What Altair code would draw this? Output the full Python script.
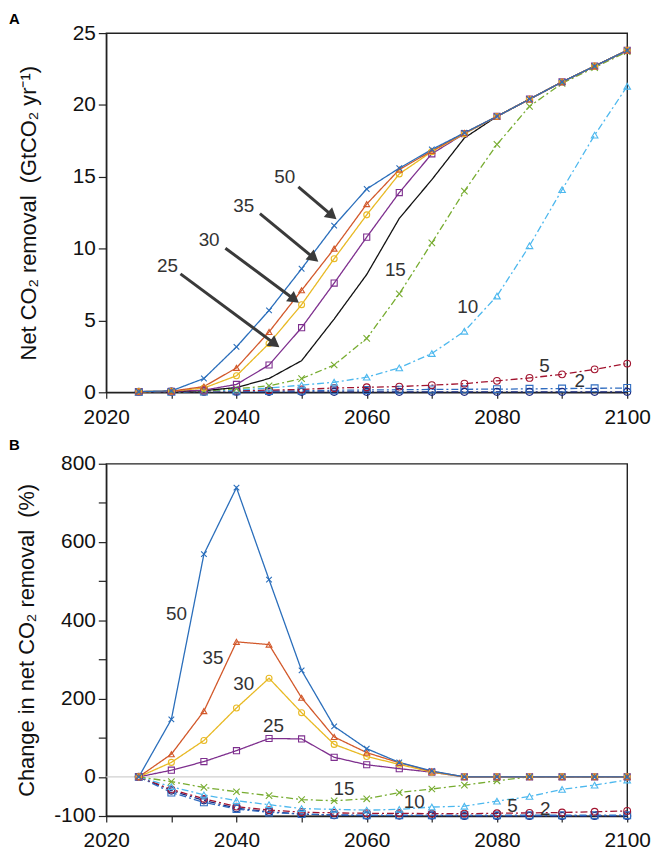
import math
import altair as alt
import pandas as pd

# ---------------- data ----------------
years = [2025, 2030, 2035, 2040, 2045, 2050, 2055, 2060, 2065, 2070, 2075, 2080, 2085, 2090, 2095, 2100]

# Panel A: net CO2 removal (GtCO2/yr)
top_50 = [0.05, 0.10, 0.96, 3.16, 5.70, 8.60, 11.6, 14.15, 15.6, 16.9, 18.06, 19.2, 20.4, 21.6, 22.7, 23.8]
top_35 = [0.05, 0.08, 0.40, 1.70, 4.20, 7.10, 10.0, 13.1, 15.5, 16.8, 18.05, 19.2, 20.4, 21.6, 22.7, 23.8]
top_30 = [0.05, 0.07, 0.30, 1.15, 3.40, 6.10, 9.30, 12.35, 15.2, 16.75, 18.0, 19.2, 20.4, 21.6, 22.7, 23.8]
top_25 = [0.04, 0.06, 0.15, 0.55, 1.90, 4.50, 7.60, 10.8, 13.9, 16.6, 18.0, 19.2, 20.4, 21.6, 22.7, 23.8]
top_base = [0.02, 0.04, 0.12, 0.33, 0.96, 2.20, 5.10, 8.20, 12.1, 14.8, 17.7, 19.2, 20.4, 21.6, 22.7, 23.8]
top_15 = [0.02, 0.04, 0.10, 0.25, 0.45, 0.95, 1.90, 3.75, 6.85, 10.4, 14.0, 17.25, 19.9, 21.5, 22.6, 23.7]
top_10 = [0.02, 0.04, 0.08, 0.15, 0.30, 0.50, 0.70, 1.05, 1.70, 2.70, 4.25, 6.70, 10.2, 14.1, 17.9, 21.3]
top_5 = [0.03, 0.05, 0.08, 0.12, 0.15, 0.20, 0.30, 0.35, 0.40, 0.50, 0.60, 0.80, 1.00, 1.25, 1.60, 2.00]
top_2 = [0.02, 0.03, 0.05, 0.07, 0.09, 0.11, 0.14, 0.16, 0.18, 0.20, 0.21, 0.22, 0.24, 0.26, 0.28, 0.30]
top_0 = [0.04, 0.05, 0.04, 0.04, 0.03, 0.03, 0.03, 0.03, 0.03, 0.03, 0.03, 0.03, 0.03, 0.03, 0.03, 0.03]

# Panel B: change in net CO2 removal (%)
bot_50 = [0, 147, 569, 739, 504, 272, 129, 72, 37, 15, 0, 0, 0, 0, 0, 0]
bot_35 = [0, 58, 168, 345, 338, 202, 102, 62, 36, 14, 0, 0, 0, 0, 0, 0]
bot_30 = [0, 37, 93, 176, 252, 164, 83, 52, 32, 12, 0, 0, 0, 0, 0, 0]
bot_25 = [0, 17, 39, 67, 98, 97, 50, 31, 21, 12, 0, 0, 0, 0, 0, 0]
bot_15 = [0, -12, -27, -38, -48, -58, -61, -56, -40, -31, -21, -10, 0, 0, 0, 0]
bot_10 = [0, -25, -46, -61, -71, -81, -83, -85, -83, -77, -75, -62, -50, -32, -21, -8]
bot_5 = [0, -32, -56, -76, -85, -90, -92, -93, -93, -94, -94, -93, -92, -91, -89, -87]
bot_2 = [0, -40, -65, -82, -91, -95, -97, -98, -98, -98, -98, -98, -98, -98, -98, -98]
bot_0 = [0, -35, -60, -80, -89, -95, -98, -99, -99, -99, -100, -100, -100, -100, -100, -100]

# series styling keys (draw order)
series_names = ["0", "2", "5", "10", "15", "base", "25", "30", "35", "50"]
series_colors = ["#1b2a80", "#2f6cc0", "#a2142f", "#4db8ee", "#77ac30", "#111111", "#7e2f8e", "#e8b923", "#d2582a", "#2a6ebb"]
X_PATH = "M-1,-1L1,1M1,-1L-1,1"
series_shapes = ["circle", "square", "circle", "triangle-up", X_PATH, "circle", "square", "circle", "triangle-up", X_PATH]
series_sizes = [50, 32, 60, 80, 34, 1, 36, 75, 85, 34]
DASHDOT = [7, 3, 2, 3]
SOLID = [1, 0]
series_dash = [DASHDOT, DASHDOT, DASHDOT, DASHDOT, DASHDOT, SOLID, SOLID, SOLID, SOLID, SOLID]
series_width = [1.3, 1.3, 1.3, 1.3, 1.3, 1.6, 1.3, 1.3, 1.3, 1.3]

top_values = {"0": top_0, "2": top_2, "5": top_5, "10": top_10, "15": top_15, "base": top_base,
              "25": top_25, "30": top_30, "35": top_35, "50": top_50}
bot_values = {"0": bot_0, "2": bot_2, "5": bot_5, "10": bot_10, "15": bot_15,
              "25": bot_25, "30": bot_30, "35": bot_35, "50": bot_50}

# annotations panel A
labA_text = ["50", "35", "30", "25", "15", "10", "5", "2"]
labA_year = [2047.4, 2041.1, 2035.8, 2029.4, 2064.4, 2075.5, 2087.3, 2092.7]
labA_val = [14.97, 12.98, 10.58, 8.79, 8.5, 5.9, 1.8, 0.78]
arrow_year1 = [2049.5, 2043.6, 2038.3, 2031.4]
arrow_val1 = [14.29, 12.43, 10.03, 8.24]
arrow_year2 = [2054.7, 2051.9, 2048.9, 2045.9]
arrow_val2 = [12.29, 9.34, 6.46, 3.37]

# annotations panel B
labB_text = ["50", "35", "30", "25", "15", "10", "5", "2"]
labB_year = [2030.8, 2036.4, 2041.1, 2045.7, 2056.5, 2067.3, 2082.4, 2087.4]
labB_val = [416, 304, 237, 130, -32, -65, -75, -82]

# ---------------- layout ----------------
W = 525
H_TOP = 362
H_BOT = 355
FONT = "Liberation Sans"

x_axis = alt.Axis(values=list(range(2020, 2101, 10)), format="d",
                  labelExpr="datum.value % 20 == 0 ? datum.label : ''",
                  title=None, tickSize=6, labelPadding=8, labelFlush=False)
x_scale = alt.Scale(domain=[2020, 2100], nice=False, zero=False)


def long_df(values):
    rows = []
    for rank, name in enumerate(series_names):
        if name not in values:
            continue
        for yr, v in zip(years, values[name]):
            rows.append({"year": yr, "value": v, "series": name, "rank": rank})
    return pd.DataFrame(rows)


def series_layers(df, y_enc):
    color = alt.Color("series:N", scale=alt.Scale(domain=series_names, range=series_colors), legend=None)
    dash = alt.StrokeDash("series:N", scale=alt.Scale(domain=series_names, range=series_dash), legend=None)
    width = alt.StrokeWidth("series:N", scale=alt.Scale(domain=series_names, range=series_width), legend=None)
    lines = alt.Chart(df).mark_line(clip=False).encode(
        x=alt.X("year:Q", scale=x_scale, axis=x_axis),
        y=y_enc, color=color, strokeDash=dash, strokeWidth=width,
        detail="series:N")
    pts = alt.Chart(df[df["series"] != "base"]).mark_point(filled=False, strokeWidth=1.1, opacity=1).encode(
        x=alt.X("year:Q", scale=x_scale, axis=x_axis),
        y=y_enc,
        color=color,
        shape=alt.Shape("series:N", scale=alt.Scale(domain=series_names, range=series_shapes), legend=None),
        size=alt.Size("series:N", scale=alt.Scale(domain=series_names, range=series_sizes), legend=None),
        order=alt.Order("rank:Q"))
    return lines, pts


# ---------- panel A ----------
yA_scale = alt.Scale(domain=[0, 25], nice=False)
yA_axis = alt.Axis(values=[0, 5, 10, 15, 20, 25], title="Net CO\u2082 removal\u00a0 (GtCO\u2082 yr\u207b\u00b9)",
                   tickSize=8, labelPadding=3, titleX=-66, titleFontSize=22)
yA = alt.Y("value:Q", scale=yA_scale, axis=yA_axis)

dfA = long_df(top_values)
linesA, ptsA = series_layers(dfA, yA)

# arrow head angles from the drawn direction (pixel space)
angles = []
for x1, y1, x2, y2 in zip(arrow_year1, arrow_val1, arrow_year2, arrow_val2):
    dx = (x2 - x1) * W / 80.0
    dy = -(y2 - y1) * H_TOP / 25.0
    angles.append(math.degrees(math.atan2(dx, -dy)) % 360)
arrows_df = pd.DataFrame({"year": arrow_year1, "value": arrow_val1,
                          "year2": arrow_year2, "value2": arrow_val2, "ang": angles})
shafts = alt.Chart(arrows_df).mark_rule(color="#3a3a3a", strokeWidth=3).encode(
    x=alt.X("year:Q", scale=x_scale, axis=x_axis), y=yA, x2="year2:Q", y2="value2:Q")
heads = alt.Chart(arrows_df).mark_point(shape="triangle-up", filled=True, color="#3a3a3a",
                                        size=170, opacity=1).encode(
    x=alt.X("year2:Q", scale=x_scale, axis=x_axis),
    y=alt.Y("value2:Q", scale=yA_scale, axis=yA_axis),
    angle=alt.Angle("ang:Q", scale=None))
labsA = alt.Chart(pd.DataFrame({"year": labA_year, "value": labA_val, "t": labA_text})).mark_text(
    fontSize=19, color="#333333", font=FONT).encode(
    x=alt.X("year:Q", scale=x_scale, axis=x_axis), y=yA, text="t:N")
tagA = alt.Chart(pd.DataFrame({"t": ["A"]})).mark_text(
    fontSize=15, fontWeight="bold", align="left", baseline="middle", color="#000", font=FONT).encode(
    x=alt.value(-98), y=alt.value(-14), text="t:N")

panelA = alt.layer(linesA, ptsA, shafts, heads, labsA, tagA).properties(width=W, height=H_TOP)

# ---------- panel B ----------
yB_scale = alt.Scale(domain=[-100, 800], nice=False)
yB_axis = alt.Axis(values=[-100, 0, 100, 200, 300, 400, 500, 600, 700, 800], format="d",
                   labelExpr="datum.value == -100 ? '-100' : (datum.value % 200 == 0 ? datum.label : '')",
                   title="Change in net CO\u2082 removal\u00a0 (%)",
                   tickSize=8, labelPadding=3, titleX=-68, titleFontSize=22)
yB = alt.Y("value:Q", scale=yB_scale, axis=yB_axis)

dfB = long_df(bot_values)
linesB, ptsB = series_layers(dfB, yB)
zero_rule = alt.Chart(pd.DataFrame({"value": [0]})).mark_rule(color="#d0d0d0", strokeWidth=1.5).encode(y=yB)
labsB = alt.Chart(pd.DataFrame({"year": labB_year, "value": labB_val, "t": labB_text})).mark_text(
    fontSize=19, color="#333333", font=FONT).encode(
    x=alt.X("year:Q", scale=x_scale, axis=x_axis), y=yB, text="t:N")
tagB = alt.Chart(pd.DataFrame({"t": ["B"]})).mark_text(
    fontSize=15, fontWeight="bold", align="left", baseline="middle", color="#000", font=FONT).encode(
    x=alt.value(-98), y=alt.value(-19), text="t:N")

panelB = alt.layer(zero_rule, linesB, ptsB, labsB, tagB).properties(width=W, height=H_BOT)

chart = alt.vconcat(panelA, panelB, spacing=9).properties(
    padding={"left": 0, "top": 0, "right": 0, "bottom": 0}).configure(
    font=FONT).configure_view(stroke="#222222", strokeWidth=1.4).configure_axis(
    labelFont=FONT, titleFont=FONT, labelFontSize=21, labelColor="#111111",
    titleColor="#111111", titleFontWeight="normal", tickColor="#222222", domainColor="#222222",
    domainWidth=1.4, tickWidth=1.2, grid=False)

chart.save("out.html", embed_options={"renderer": "svg", "actions": False})
